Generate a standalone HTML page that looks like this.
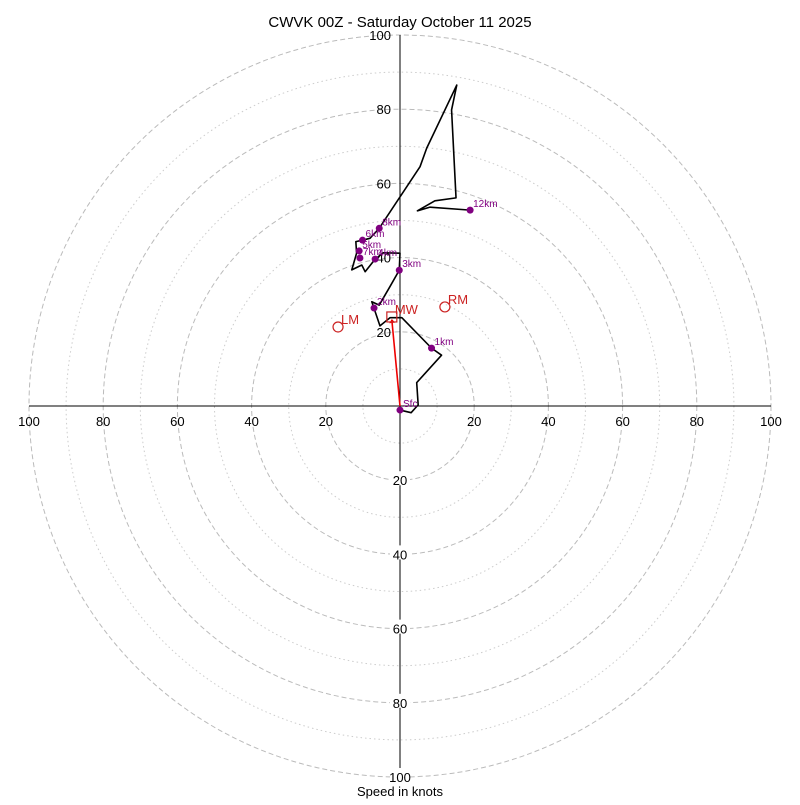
<!DOCTYPE html>
<html><head><meta charset="utf-8"><style>
body{margin:0;background:#fff}
svg text{font-family:"Liberation Sans",sans-serif}
</style></head><body>
<svg id="c" width="800" height="800" xmlns="http://www.w3.org/2000/svg">
<rect width="800" height="800" fill="#fff"/>
<text x="400" y="27" font-size="15" text-anchor="middle">CWVK 00Z - Saturday October 11 2025</text>
<text x="400" y="796" font-size="13" text-anchor="middle">Speed in knots</text>
<g id="rings"></g><g id="axes"></g><g id="ticks"></g><g id="series"></g><g id="storm"></g>
</svg>
<script>
// hodograph trace (knots)
const pathU=[0,3.0,4.9,4.5,11.2,8.5,0.5,-2.7,-5.4,-7.6,-5.6,-2.7,-0.2,0,-4.5,-6.7,-9.4,-10.3,-13.0,-11.7,-11.9,-10.1,-8.1,-5.6,5.4,7.2,15.3,13.9,15.1,9.4,4.7,8.1,18.9];
const pathV=[-1.1,-1.8,0.3,6.3,13.7,15.6,23.8,23.8,21.6,28.1,27.2,32.2,36.6,41.2,41.3,39.6,36.2,38.0,36.7,41.2,44.3,44.7,45.2,47.9,64.5,69.5,86.5,79.8,56.1,55.3,52.6,53.6,52.8];
// height markers
const kmNames=["Sfc","1km","2km","3km","4km","5km","6km","7km","8km","12km"];
const kmU=[0,8.5,-7.0,-0.2,-6.7,-11.0,-10.1,-10.8,-5.6,18.9];
const kmV=[-1.1,15.6,26.4,36.6,39.6,41.8,44.7,39.9,47.9,52.8];
// storm motions
const stormNames=["RM","LM","MW"];
const stormU=[12.1,-16.7,-2.2];
const stormV=[26.7,21.3,24.0];
// rings / ticks
const ringVals=[10,20,30,40,50,60,70,80,90,100];
const tickVals=[20,40,60,80,100];

const CX=400,CY=406,K=3.71;
const sx=u=>CX+u*K, sy=v=>CY-v*K;
const NS="http://www.w3.org/2000/svg";
function mk(tag,parent,attrs){const e=document.createElementNS(NS,tag);for(const k in attrs)e.setAttribute(k,attrs[k]);document.getElementById(parent).appendChild(e);return e;}

ringVals.forEach(r=>{
  const e=mk("circle","rings",{cx:CX,cy:CY,r:r*K,fill:"none",stroke:r%20===0?"#bbb":"#ccc","stroke-width":1,"stroke-dasharray":r%20===0?"5,3":"1.5,3"});
  
  
});
let a=mk("line","axes",{x1:sx(-100),y1:CY,x2:sx(100),y2:CY,stroke:"#000"});


a=mk("line","axes",{x1:CX,y1:sy(100),x2:CX,y2:sy(-100),stroke:"#000"});



tickVals.forEach(t=>{
  [[sx(t),CY+20],[sx(-t),CY+20]].forEach(p=>{
    const e=mk("text","ticks",{x:p[0],y:p[1],"font-size":13,"text-anchor":"middle"});
    e.textContent=t;
    
    
  });
  let e=mk("text","ticks",{x:CX-9,y:sy(t)+5,"font-size":13,"text-anchor":"end"});
  e.textContent=t;
  
  
  const b=mk("rect","ticks",{x:CX-10,y:sy(-t)-9,width:20,height:14,fill:"#fff"});
  
  
  e=mk("text","ticks",{x:CX,y:sy(-t)+5,"font-size":13,"text-anchor":"middle"});
  e.textContent=t;
  
  
});

let pl=mk("polyline","series",{points:pathU.map((u,i)=>sx(u)+","+sy(pathV[i])).join(" "),fill:"none",stroke:"#000","stroke-width":1.6,"stroke-linejoin":"round"});



kmNames.forEach((n,i)=>{
  const d=mk("circle","series",{cx:sx(kmU[i]),cy:sy(kmV[i]),r:3.5,fill:"#800080"});
  
  
  const t=mk("text","series",{x:sx(kmU[i])+3,y:sy(kmV[i])-3,"font-size":10,fill:"#800080"});
  t.textContent=n;
  
  
});

// mean wind arrow
const mwx=sx(stormU[2]),mwy=sy(stormV[2]);
let ar=mk("line","storm",{x1:CX,y1:CY,x2:mwx,y2:mwy+3,stroke:"#e00","stroke-width":1.6});


const ang=Math.atan2(mwy-CY,mwx-CX);
const hx=mwx+3*Math.sin(0), hy=mwy+2;
let hd=mk("polygon","storm",{points:`${hx},${hy} ${hx-4*Math.cos(ang)+3*Math.sin(ang)},${hy-4*Math.sin(ang)-3*Math.cos(ang)} ${hx-4*Math.cos(ang)-3*Math.sin(ang)},${hy-4*Math.sin(ang)+3*Math.cos(ang)}`,fill:"#e00"});



stormNames.forEach((n,i)=>{
  const x=sx(stormU[i]),y=sy(stormV[i]);
  let m;
  if(n==="MW") m=mk("rect","storm",{x:x-5,y:y-5,width:10,height:10,fill:"none",stroke:"#c22","stroke-width":1.2});
  else m=mk("circle","storm",{cx:x,cy:y,r:5,fill:"none",stroke:"#c22","stroke-width":1.2});
  
  
  const t=mk("text","storm",{x:x+3,y:y-3,"font-size":13,fill:"#c22"});
  t.textContent=n;
  
  
});
</script>
</body></html>
